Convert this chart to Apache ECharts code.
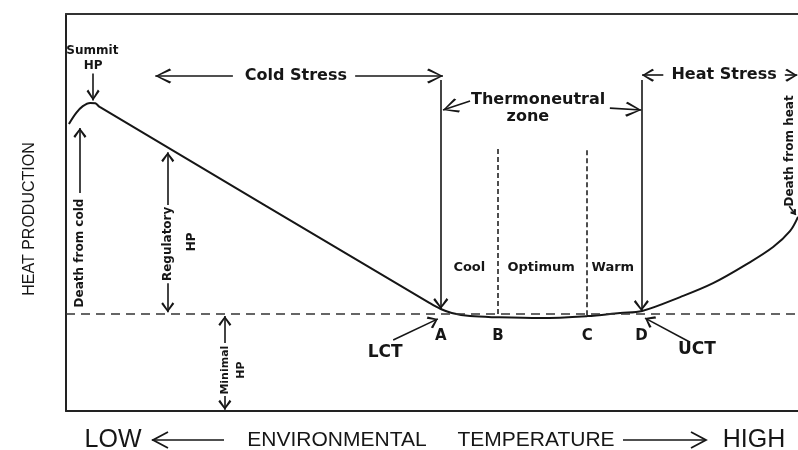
<!DOCTYPE html>
<html>
<head>
<meta charset="utf-8">
<script src="https://cdn.jsdelivr.net/npm/echarts@6/dist/echarts.min.js"></script>
<style>html,body{margin:0;padding:0;background:#fff;}#c{width:798px;height:450px;}</style>
</head>
<body>
<div id="c"></div>
<script>
// ---- data (arbitrary units: temperature 0-100, heat production 0-100) ----
const curveX = [0.4, 1.4, 2.3, 3.3, 4.0, 4.6, 49.7, 51.2, 52.7, 55.2, 59.0, 64.8, 71.2, 75.7, 78.7, 83.9, 88.4, 93.0, 96.6, 98.9, 100];
const curveY = [72.3, 75.1, 76.8, 77.6, 77.5, 76.6, 27.2, 25.7, 24.7, 23.9, 23.6, 23.4, 23.9, 24.7, 25.2, 28.7, 32.2, 37.0, 41.3, 45.3, 48.9];
const minimalHP = 24.4;
const zoneLetters = ['A', 'B', 'C', 'D'];
const zoneX = [51.2, 59.0, 71.2, 78.6];
const zoneNames = ['Cool', 'Optimum', 'Warm'];
const zoneNameX = [55.1, 64.9, 74.7];

// ---- layout of annotations (data coordinates) ----
const annotations = [
  {t: 'Summit', p: [3.6, 90.7], s: 12, w: 'bold'},
  {t: 'HP', p: [3.7, 86.9], s: 12, w: 'bold'},
  {t: 'Cold Stress', p: [31.4, 84.4], s: 16, w: 'bold'},
  {t: 'Heat Stress', p: [89.9, 84.6], s: 16, w: 'bold'},
  {t: 'Thermoneutral', p: [64.5, 78.3], s: 16, w: 'bold'},
  {t: 'zone', p: [63.1, 74.1], s: 16, w: 'bold'},
  {t: 'LCT', p: [43.6, 14.6], s: 17, w: 'bold'},
  {t: 'UCT', p: [86.2, 15.4], s: 17, w: 'bold'},
  {t: 'Death from cold', p: [1.9, 39.8], s: 12, w: 'bold', r: 90},
  {t: 'Regulatory', p: [13.9, 42.1], s: 12, w: 'bold', r: 90},
  {t: 'HP', p: [17.2, 42.6], s: 12, w: 'bold', r: 90},
  {t: 'Minimal', p: [21.7, 10.3], s: 11, w: 'bold', r: 90},
  {t: 'HP', p: [23.9, 10.3], s: 11, w: 'bold', r: 90},
  {t: 'Death from heat', p: [98.9, 65.5], s: 12, w: 'bold', r: 90}
];

const INK = '#161616';
const FONT = 'DejaVu Sans';

function chev(w, h, t) {
  return 'path://M' + (w / 2) + ',0L' + w + ',' + (h - t) + 'L' + (w - t) + ',' + h +
    'L' + (w / 2) + ',' + (t * 1.6) + 'L' + t + ',' + h + 'L0,' + (h - t) + 'Z';
}
function arrow(from, to, w, h) {
  w = w || 13; h = h || 10;
  return [{coord: from, symbol: 'none'},
          {coord: to, symbol: chev(w, h, 1.7), symbolSize: [w, h], symbolOffset: [0, h / 2]}];
}
function seg(from, to, style) {
  return [{coord: from, symbol: 'none', lineStyle: style}, {coord: to, symbol: 'none'}];
}

const markData = [
  seg([0, minimalHP], [100, minimalHP], {type: [9, 6], width: 1.6, color: '#333'}),
  seg([zoneX[1], 66.0], [zoneX[1], 23.6], {type: [5, 3], width: 1.6, color: '#222'}),
  seg([zoneX[2], 65.7], [zoneX[2], 23.9], {type: [5, 3], width: 1.6, color: '#222'}),
  arrow([zoneX[0], 83.4], [zoneX[0], 25.7], 15, 11),
  arrow([zoneX[3], 83.4], [zoneX[3], 25.2], 15, 11),
  arrow([3.7, 85.0], [3.7, 78.2], 13, 11),
  arrow([22.8, 84.4], [12.2, 84.4], 15, 16),
  arrow([39.5, 84.4], [51.5, 84.4], 15, 16),
  arrow([81.6, 84.6], [78.7, 84.6], 13, 12),
  arrow([98.2, 84.6], [99.9, 84.6], 13, 12),
  arrow([55.2, 78.1], [51.5, 75.8], 15, 16),
  arrow([74.3, 76.3], [78.6, 75.8], 15, 16),
  arrow([1.9, 54.9], [1.9, 71.3], 13, 10),
  arrow([13.9, 51.9], [13.9, 65.2], 13, 10),
  arrow([13.9, 32.2], [13.9, 24.9], 13, 10),
  arrow([21.7, 17.1], [21.7, 23.9], 13, 10),
  arrow([21.7, 3.8], [21.7, 0.3], 13, 10),
  arrow([44.7, 17.9], [50.8, 23.2], 13, 10),
  arrow([85.2, 17.4], [79.1, 23.4], 13, 10),
  arrow([98.8, 51.6], [99.7, 49.4], 7, 6)
];

const textItems = [];
annotations.forEach(a => textItems.push({
  value: a.p,
  label: {formatter: a.t, fontSize: a.s, fontWeight: a.w, rotate: a.r || 0}
}));
zoneLetters.forEach((l, i) => textItems.push({
  value: [zoneX[i], 18.9], label: {formatter: l, fontSize: 15, fontWeight: 'bold'}
}));
zoneNames.forEach((n, i) => textItems.push({
  value: [zoneNameX[i], 36.0], label: {formatter: n, fontSize: 13, fontWeight: 'bold'}
}));

const chart = echarts.init(document.getElementById('c'), null, {renderer: 'canvas'});
chart.setOption({
  animation: false,
  backgroundColor: '#ffffff',
  grid: {left: 66, right: 0, top: 14, bottom: 39},
  xAxis: [
    {type: 'value', min: 0, max: 100, position: 'bottom',
     axisLine: {show: true, onZero: false, lineStyle: {color: '#222', width: 2}},
     axisTick: {show: false}, axisLabel: {show: false}, splitLine: {show: false}},
    {type: 'value', min: 0, max: 100, position: 'top',
     axisLine: {show: true, onZero: false, lineStyle: {color: '#333', width: 2}},
     axisTick: {show: false}, axisLabel: {show: false}, splitLine: {show: false}}
  ],
  yAxis: {type: 'value', min: 0, max: 100,
    axisLine: {show: true, onZero: false, lineStyle: {color: '#222', width: 2}},
    axisTick: {show: false}, axisLabel: {show: false}, splitLine: {show: false}},
  graphic: [
    {type: 'text', x: 30, y: 219, rotation: Math.PI / 2,
     style: {text: 'HEAT PRODUCTION', fontSize: 16, fontFamily: 'Liberation Sans', fill: INK, align: 'center', verticalAlign: 'middle'}},
    {type: 'text', x: 113, y: 440, style: {text: 'LOW', fontSize: 25, fontFamily: 'Liberation Sans', fill: INK, align: 'center', verticalAlign: 'middle'}},
    {type: 'line', shape: {x1: 152, y1: 440, x2: 224, y2: 440}, style: {stroke: INK, lineWidth: 1.6}},
    {type: 'polyline', shape: {points: [[168, 432], [153, 440], [168, 448]]}, style: {stroke: INK, lineWidth: 1.8, fill: null}},
    {type: 'text', x: 337, y: 440, style: {text: 'ENVIRONMENTAL', fontSize: 21, fontFamily: 'Liberation Sans', fill: INK, align: 'center', verticalAlign: 'middle'}},
    {type: 'text', x: 536, y: 440, style: {text: 'TEMPERATURE', fontSize: 21, fontFamily: 'Liberation Sans', fill: INK, align: 'center', verticalAlign: 'middle'}},
    {type: 'line', shape: {x1: 623, y1: 440, x2: 706, y2: 440}, style: {stroke: INK, lineWidth: 1.6}},
    {type: 'polyline', shape: {points: [[691, 432], [706, 440], [691, 448]]}, style: {stroke: INK, lineWidth: 1.8, fill: null}},
    {type: 'text', x: 754, y: 440, style: {text: 'HIGH', fontSize: 25, fontFamily: 'Liberation Sans', fill: INK, align: 'center', verticalAlign: 'middle'}}
  ],
  series: [
    {
      type: 'line',
      data: curveX.map((x, i) => [x, curveY[i]]),
      smooth: 0.35,
      symbol: 'none',
      lineStyle: {color: INK, width: 2},
      silent: true,
      markLine: {
        silent: true,
        symbol: ['none', 'none'],
        label: {show: false},
        emphasis: {disabled: true},
        lineStyle: {color: INK, width: 1.6, type: 'solid'},
        itemStyle: {color: INK},
        data: markData
      }
    },
    {
      type: 'scatter',
      symbolSize: 0,
      silent: true,
      itemStyle: {color: 'transparent', opacity: 1},
      label: {show: true, position: 'inside', color: INK, fontFamily: FONT, opacity: 1, textBorderWidth: 0},
      data: textItems
    }
  ]
});
</script>
</body>
</html>
